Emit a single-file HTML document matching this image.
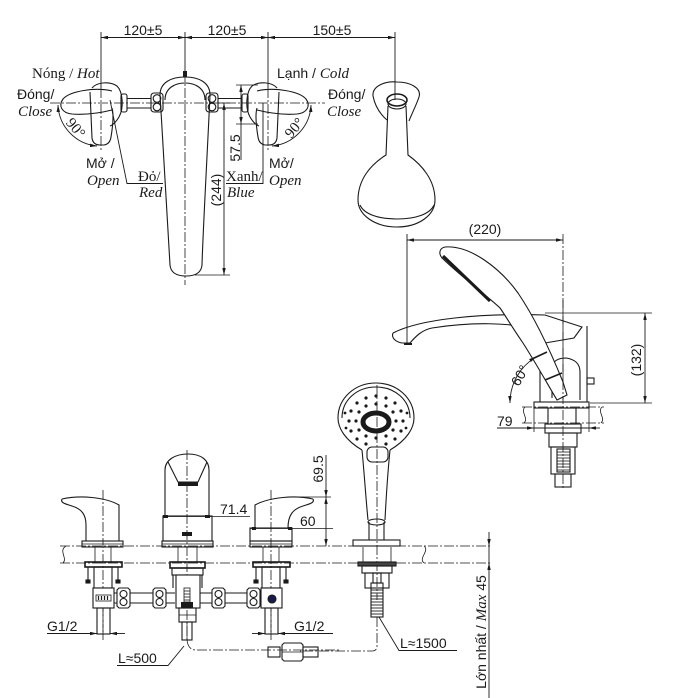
<!DOCTYPE html>
<html><head><meta charset="utf-8">
<style>
html,body{margin:0;padding:0;background:#fff;}
svg{display:block;}
text{font-family:"Liberation Sans",sans-serif;font-size:14px;fill:#1a1a1a;stroke:none;}
.i{font-family:"Liberation Serif",serif;font-style:italic;font-size:15px;}
.r{font-family:"Liberation Serif",serif;font-size:15px;}
.c{stroke-dasharray:10 2 2 2;stroke-width:0.8;}
</style></head><body>
<svg width="700" height="698" viewBox="0 0 700 698" xmlns="http://www.w3.org/2000/svg">
<defs>
<marker id="a" viewBox="0 0 8 4" refX="8" refY="2" markerWidth="7" markerHeight="3.5" markerUnits="userSpaceOnUse" orient="auto-start-reverse"><path d="M0,0 L8,2 L0,4z" fill="#1a1a1a"/></marker>
</defs>
<g fill="none" stroke="#1a1a1a" stroke-width="1.1">

<!-- ========== TOP VIEW ========== -->
<line x1="101" y1="37.5" x2="185" y2="37.5" marker-start="url(#a)" marker-end="url(#a)" stroke-width="0.9"/>
<line x1="185" y1="37.5" x2="268" y2="37.5" marker-start="url(#a)" marker-end="url(#a)" stroke-width="0.9"/>
<line x1="268" y1="37.5" x2="395" y2="37.5" marker-start="url(#a)" marker-end="url(#a)" stroke-width="0.9"/>
<line x1="101" y1="32" x2="101" y2="88" stroke-width="0.9"/>
<line x1="268" y1="32" x2="268" y2="88" stroke-width="0.9"/>
<line x1="395" y1="32" x2="395" y2="100" stroke-width="0.9"/>
<line x1="185" y1="32" x2="185" y2="72" stroke-width="0.9"/>
<line x1="101" y1="88" x2="101" y2="150" class="c"/>
<line x1="268" y1="88" x2="268" y2="150" class="c"/>
<line x1="185" y1="72" x2="185" y2="285" class="c"/>
<line x1="50" y1="103" x2="325" y2="103" class="c"/>

<g id="h">
  <path d="M92 88 C97 82,110 81,117 86 C123 92,124 108,119 117 C116 122,113 125,110 126"/>
  <path d="M112 91 C95 87,70 91,63 99 C58 106,62 113,72 114 C85 115,100 113,112 110"/>
  <path d="M90 92 L92 138 Q93 145 100 145 L104 145 Q110 144 111 137 C113 125,114 115,112 108"/>
  <rect x="121" y="94" width="6" height="18" rx="2"/>
  <line x1="127" y1="98.5" x2="151" y2="98.5"/>
  <line x1="127" y1="108" x2="151" y2="108"/>
  <rect x="151" y="93" width="12" height="19" rx="3"/>
  <circle cx="157" cy="98.5" r="3.8"/>
  <circle cx="157" cy="107" r="3.8"/>
  <path d="M58 105 A43 43 0 0 0 97 146" marker-start="url(#a)" marker-end="url(#a)" stroke-width="0.9"/>
</g>
<use href="#h" transform="translate(369,0) scale(-1,1)"/>

<path d="M160 95 C160 82,172 77,185 77 C198 77,210 82,210 95 C207 160,203 230,202 265 Q201 276 186 276 Q171 276 170 265 C168 230,164 160,160 95 Z"/>
<path d="M165 100 C165 88,175 83,185 83 C195 83,205 88,205 100"/>
<rect x="183" y="71" width="4" height="6" fill="#1a1a1a" stroke="none"/>

<line x1="236" y1="85" x2="258" y2="85" stroke-width="0.8"/>
<line x1="236" y1="124" x2="258" y2="124" stroke-width="0.8"/>
<line x1="241" y1="85" x2="241" y2="124" marker-start="url(#a)" marker-end="url(#a)" stroke-width="0.9"/>
<line x1="241" y1="124" x2="241" y2="160" stroke-width="0.9"/>
<line x1="218" y1="103" x2="230" y2="103" stroke-width="0.8"/>
<line x1="195" y1="275" x2="230" y2="275" stroke-width="0.8"/>
<line x1="224" y1="103" x2="224" y2="275" marker-start="url(#a)" marker-end="url(#a)" stroke-width="0.9"/>

<path d="M110 100 L127 183.5 L163 183.5" stroke-width="0.9"/>
<path d="M263 103 L263 183.5 L226 183.5" stroke-width="0.9"/>

<!-- shower holder top view -->
<path d="M373 96 C372 86,385 81,397 82 C410 82,422 88,419 97 C416 106,412 113,409 121"/>
<path d="M373 96 C375 106,380 114,387 120"/>
<ellipse cx="397" cy="100" rx="10" ry="6" stroke-width="1.6"/>
<ellipse cx="397" cy="104" rx="9" ry="5"/>
<path d="M388 106 L386 155 C370 165,358 180,358 200 C358 215,375 227,397 227 C419 227,435 215,435 200 C435 180,422 165,408 155 L406 106"/>
<path d="M360 205 C364 214,378 219,397 219 C416 219,430 214,434 205"/>

<!-- ========== SIDE VIEW ========== -->
<line x1="407" y1="240" x2="563" y2="240" marker-start="url(#a)" marker-end="url(#a)" stroke-width="0.9"/>
<line x1="407" y1="234" x2="407" y2="343" stroke-width="0.9"/>
<line x1="563" y1="234" x2="563" y2="490" class="c"/>
<path d="M393 333 C420 319,480 313,545 315 L582 327 L574 338 L545 343"/>
<path d="M393 333 C391 338,396 342,402 343 L410 343 C416 336,422 330,432 328 C470 322,510 322,540 330"/>
<line x1="404" y1="344" x2="412" y2="344" stroke-width="2"/>
<line x1="540" y1="335" x2="540" y2="402"/>
<line x1="587" y1="326" x2="587" y2="402"/>
<rect x="587" y="378" width="7" height="6"/>
<path d="M552 398 L552 368 Q553 358 566 358 Q580 360 580 372 L580 400"/>
<path d="M445 247 C470 245,500 268,518 293 C535 318,550 350,563 382 L567 395 L557 400 C548 385,537 365,523 343 C512 327,505 315,500 308 C492 300,465 280,442 258 C438 253,440 248,445 247 Z" fill="#fff"/>
<path d="M443 256 L490 301" stroke-width="3"/>
<line x1="532" y1="359" x2="547" y2="352" stroke-width="1.6"/>
<line x1="545" y1="380" x2="562" y2="373" stroke-width="1.6"/>
<line x1="563" y1="300" x2="563" y2="400" class="c"/>
<line x1="545" y1="313" x2="652" y2="313" stroke-width="0.8"/>
<line x1="590" y1="403" x2="652" y2="403" stroke-width="0.8"/>
<line x1="645" y1="313" x2="645" y2="403" marker-start="url(#a)" marker-end="url(#a)" stroke-width="0.9"/>
<path d="M510 403 A53 53 0 0 1 536 357" marker-start="url(#a)" marker-end="url(#a)" stroke-width="0.9"/>
<rect x="534" y="402" width="55" height="6"/>
<line x1="522" y1="407" x2="604" y2="407" class="c"/>
<line x1="522" y1="423" x2="604" y2="423" class="c"/>
<path d="M525 407 C520 412,529 418,524 423" stroke-width="0.8"/>
<path d="M602 407 C597 412,606 418,601 423" stroke-width="0.8"/>
<line x1="534" y1="408" x2="534" y2="432" stroke-width="0.8"/>
<line x1="589" y1="408" x2="589" y2="432" stroke-width="0.8"/>
<line x1="497" y1="428" x2="534" y2="428" marker-end="url(#a)" stroke-width="0.9"/>
<line x1="534" y1="428" x2="589" y2="428" stroke-width="0.9"/>
<line x1="600" y1="428" x2="589" y2="428" marker-end="url(#a)" stroke-width="0.9"/>
<rect x="548" y="408" width="28" height="16"/>
<rect x="545" y="424" width="36" height="9"/>
<rect x="549" y="433" width="28" height="14"/>
<rect x="551" y="447" width="24" height="27"/>
<rect x="557" y="449" width="13" height="23"/>
<g stroke-width="0.8">
<line x1="557" y1="452" x2="570" y2="452"/><line x1="557" y1="455" x2="570" y2="455"/><line x1="557" y1="458" x2="570" y2="458"/><line x1="557" y1="461" x2="570" y2="461"/><line x1="557" y1="464" x2="570" y2="464"/><line x1="557" y1="467" x2="570" y2="467"/><line x1="557" y1="470" x2="570" y2="470"/>
</g>
<rect x="555" y="474" width="16" height="13"/>

<!-- ========== FRONT VIEW ========== -->
<line x1="60" y1="546" x2="490" y2="546" class="c"/>
<line x1="60" y1="563" x2="490" y2="563" class="c"/>
<path d="M66 546 C58 551,68 558,63 563" stroke-width="0.8"/>
<path d="M424 546 C430 551,418 558,424 563" stroke-width="0.8"/>

<path d="M62 499 C80 495,105 497,119 505 L119 541"/>
<path d="M62 499 C60 503,66 504,72 506 C82 509,86 515,86 525 L86 541"/>
<rect x="82" y="541" width="41" height="6"/>
<line x1="82" y1="544" x2="123" y2="544" stroke-width="0.7"/>
<line x1="103" y1="490" x2="103" y2="640" class="c"/>

<path d="M313 499 C295 495,270 497,255 505 L255 528"/>
<path d="M313 499 C315 503,309 504,303 506 C293 509,288 515,288 528"/>
<rect x="250" y="528" width="42" height="13"/>
<rect x="250" y="541" width="42" height="6"/>
<line x1="250" y1="544" x2="292" y2="544" stroke-width="0.7"/>
<line x1="271" y1="490" x2="271" y2="640" class="c"/>
<line x1="250" y1="528.5" x2="333" y2="528.5" stroke-width="0.8"/>
<line x1="252" y1="528.5" x2="256" y2="528.5" stroke-width="3"/>
<line x1="288" y1="528.5" x2="292" y2="528.5" stroke-width="3"/>

<path d="M165 516 L165 470 C165 460,175 454,188 454 C201 454,209 460,209 470 L209 516"/>
<path d="M168 462 L178 482 L198 482 L207 462"/>
<rect x="178" y="482" width="20" height="4" fill="#1a1a1a" stroke="none"/>
<rect x="163" y="516" width="49" height="25"/>
<rect x="162" y="541" width="51" height="6"/>
<line x1="162" y1="544" x2="213" y2="544" stroke-width="0.7"/>
<rect x="182" y="532" width="10" height="4" fill="#1a1a1a" stroke="none"/>
<line x1="187" y1="450" x2="187" y2="640" class="c"/>
<line x1="166" y1="516.5" x2="250" y2="516.5" stroke-width="0.8"/>
<line x1="163" y1="516.5" x2="168" y2="516.5" stroke-width="3"/>
<line x1="205" y1="516.5" x2="210" y2="516.5" stroke-width="3"/>

<line x1="300" y1="497" x2="331" y2="497" stroke-width="0.8"/>
<line x1="326" y1="455" x2="326" y2="497" marker-end="url(#a)" stroke-width="0.9"/>
<line x1="326" y1="497" x2="326" y2="546" marker-start="url(#a)" marker-end="url(#a)" stroke-width="0.9"/>

<path d="M362 450 C345 440,338 428,338 418 C338 398,355 383,376 383 C397 383,414 398,414 418 C414 428,407 440,390 450" fill="#fff"/>
<path d="M342 418 C342 400,357 387,376 387 C395 387,410 400,410 418"/>
<ellipse cx="376" cy="422" rx="13" ry="9" stroke-width="5"/>
<g fill="#1a1a1a" stroke="none">
<circle cx="396" cy="421" r="1.6"/><circle cx="393" cy="430" r="1.6"/><circle cx="386" cy="436" r="1.6"/><circle cx="376" cy="438" r="1.6"/><circle cx="366" cy="436" r="1.6"/><circle cx="359" cy="430" r="1.6"/><circle cx="356" cy="421" r="1.6"/><circle cx="359" cy="412" r="1.6"/><circle cx="366" cy="406" r="1.6"/><circle cx="376" cy="404" r="1.6"/><circle cx="386" cy="406" r="1.6"/><circle cx="393" cy="412" r="1.6"/>
<circle cx="403" cy="421" r="1.6"/><circle cx="401" cy="431" r="1.6"/><circle cx="395" cy="439" r="1.6"/><circle cx="386" cy="444" r="1.6"/><circle cx="366" cy="444" r="1.6"/><circle cx="357" cy="439" r="1.6"/><circle cx="351" cy="431" r="1.6"/><circle cx="349" cy="421" r="1.6"/><circle cx="351" cy="411" r="1.6"/><circle cx="357" cy="403" r="1.6"/><circle cx="366" cy="398" r="1.6"/><circle cx="376" cy="396" r="1.6"/><circle cx="386" cy="398" r="1.6"/><circle cx="395" cy="403" r="1.6"/><circle cx="401" cy="411" r="1.6"/>
<circle cx="407" cy="413" r="1.4"/><circle cx="345" cy="413" r="1.4"/><circle cx="406" cy="428" r="1.4"/><circle cx="346" cy="428" r="1.4"/>
</g>
<path d="M362 450 C364 470,366 500,368 520"/>
<path d="M390 450 C388 470,386 500,385 520"/>
<rect x="367" y="447" width="21" height="15" rx="5"/>
<ellipse cx="376.5" cy="522" rx="8.5" ry="3"/>
<line x1="369" y1="522" x2="369" y2="540"/>
<line x1="384" y1="522" x2="384" y2="540"/>
<rect x="353" y="540" width="47" height="6"/>
<line x1="377" y1="385" x2="377" y2="600" class="c"/>

<line x1="489" y1="532" x2="489" y2="546" marker-end="url(#a)" stroke-width="0.9"/>
<line x1="489" y1="546" x2="489" y2="563" stroke-width="0.9"/>
<line x1="489" y1="698" x2="489" y2="563" marker-end="url(#a)" stroke-width="0.9"/>

<g id="bf">
  <line x1="95" y1="547" x2="95" y2="563" stroke-width="0.8"/>
  <line x1="111" y1="547" x2="111" y2="563" stroke-width="0.8"/>
  <rect x="85" y="562" width="37" height="5" stroke-width="1.6"/>
  <line x1="88" y1="567" x2="88" y2="582"/>
  <line x1="118" y1="567" x2="118" y2="582"/>
  <rect x="86" y="580" width="4" height="3" fill="#1a1a1a"/>
  <rect x="116" y="580" width="4" height="3" fill="#1a1a1a"/>
  <rect x="94" y="567" width="18" height="21"/>
  <rect x="93" y="588" width="21" height="20" fill="#fff"/>
  <rect x="97" y="608" width="13" height="26"/>
  <line x1="103" y1="608" x2="103" y2="634" class="c"/>
</g>
<use href="#bf" transform="translate(168,0)"/>
<rect x="96" y="595" width="15" height="6" stroke-width="0.8"/>
<g stroke-width="1.2"><line x1="98.5" y1="596" x2="98.5" y2="600"/><line x1="101.5" y1="596" x2="101.5" y2="600"/><line x1="104.5" y1="596" x2="104.5" y2="600"/><line x1="107.5" y1="596" x2="107.5" y2="600"/></g>
<circle cx="272" cy="599" r="4" fill="#1a1a4a"/>
<line x1="114" y1="593" x2="175" y2="593"/>
<line x1="114" y1="603" x2="175" y2="603"/>
<line x1="200" y1="593" x2="261" y2="593"/>
<line x1="200" y1="603" x2="261" y2="603"/>
<g id="nut">
  <path d="M117 590 L119 588 L128 588 L130 590 L130 606 L128 608 L119 608 L117 606 Z" fill="#fff"/>
  <circle cx="123.5" cy="594" r="3.5"/>
  <circle cx="123.5" cy="602" r="3.5"/>
</g>
<use href="#nut" transform="translate(36,0)"/>
<use href="#nut" transform="translate(95,0)"/>
<use href="#nut" transform="translate(130,0)"/>
<line x1="178" y1="547" x2="178" y2="563" stroke-width="0.8"/>
<line x1="197" y1="547" x2="197" y2="563" stroke-width="0.8"/>
<rect x="170" y="562" width="35" height="6" stroke-width="1.6"/>
<rect x="172" y="568" width="31" height="7"/>
<line x1="173" y1="575" x2="173" y2="588"/>
<line x1="202" y1="575" x2="202" y2="588"/>
<rect x="176" y="575" width="24" height="33" fill="#fff"/>
<rect x="184" y="588" width="6" height="14" stroke-width="0.8"/>
<g stroke-width="0.8"><line x1="184" y1="591" x2="190" y2="591"/><line x1="184" y1="594" x2="190" y2="594"/><line x1="184" y1="597" x2="190" y2="597"/><line x1="184" y1="600" x2="190" y2="600"/></g>
<rect x="181" y="602" width="12" height="6" fill="#1a1a1a" stroke="none"/>
<rect x="179" y="608" width="17" height="14"/>
<line x1="179" y1="615" x2="196" y2="615" stroke-width="0.7"/>
<rect x="182" y="622" width="10" height="18"/>
<line x1="187" y1="622" x2="187" y2="640" stroke-width="0.7"/>

<line x1="47" y1="633.5" x2="97" y2="633.5" marker-end="url(#a)" stroke-width="0.9"/>
<line x1="125" y1="633.5" x2="110" y2="633.5" marker-end="url(#a)" stroke-width="0.9"/>
<line x1="252" y1="633.5" x2="265" y2="633.5" marker-end="url(#a)" stroke-width="0.9"/>
<line x1="333" y1="633.5" x2="278" y2="633.5" marker-end="url(#a)" stroke-width="0.9"/>

<path d="M117 665.5 L168 665.5 L184 646" stroke-width="0.9"/>
<path d="M187 640 Q188 650 196 650 L340 650" class="c"/>
<rect x="268" y="647" width="12" height="10"/>
<path d="M282 645 L284 643 L301 643 L303 645 L303 659 L301 661 L284 661 L282 659 Z"/>
<line x1="282" y1="652" x2="303" y2="652" stroke-width="0.7"/>
<rect x="303" y="647" width="15" height="10"/>

<line x1="363" y1="547" x2="363" y2="563" stroke-width="0.8"/>
<line x1="391" y1="547" x2="391" y2="563" stroke-width="0.8"/>
<rect x="358" y="562" width="38" height="4" fill="#444"/>
<rect x="362" y="566" width="30" height="7"/>
<rect x="365" y="573" width="24" height="15"/>
<rect x="373" y="573" width="8" height="10"/>
<rect x="371" y="583" width="12" height="34"/>
<g stroke-width="0.9">
<line x1="371" y1="590" x2="383" y2="590"/><line x1="371" y1="593" x2="383" y2="593"/><line x1="371" y1="596" x2="383" y2="596"/><line x1="371" y1="599" x2="383" y2="599"/><line x1="371" y1="602" x2="383" y2="602"/><line x1="371" y1="605" x2="383" y2="605"/><line x1="371" y1="608" x2="383" y2="608"/><line x1="371" y1="611" x2="383" y2="611"/><line x1="371" y1="614" x2="383" y2="614"/>
</g>
<path d="M377 617 L377 646 Q377 651 372 651 L300 651" class="c"/>
<path d="M379 617 L399 650.5 L457 650.5" stroke-width="0.9"/>
</g>

<!-- ========== TEXT ========== -->
<text x="143" y="35" text-anchor="middle">120±5</text>
<text x="227" y="35" text-anchor="middle">120±5</text>
<text x="332" y="35" text-anchor="middle">150±5</text>

<text class="r" x="32" y="78">Nóng / <tspan class="i">Hot</tspan></text>
<text x="17" y="99">Đóng/</text>
<text class="i" x="18" y="116">Close</text>
<text x="86" y="168">Mở /</text>
<text class="i" x="87" y="185">Open</text>
<text class="r" x="138" y="181">Đỏ/</text>
<text class="i" x="139" y="197">Red</text>
<text class="r" x="226" y="181">Xanh/</text>
<text class="i" x="227" y="197">Blue</text>
<text x="269" y="168">Mở/</text>
<text class="i" x="269" y="185">Open</text>
<text x="277" y="78">Lạnh / <tspan class="i">Cold</tspan></text>
<text x="328" y="99">Đóng/</text>
<text class="i" x="327" y="116">Close</text>
<text class="r" transform="translate(72,131) rotate(50)" text-anchor="middle">90°</text>
<text class="r" transform="translate(298,131) rotate(-50)" text-anchor="middle">90°</text>
<text transform="translate(240,148) rotate(-90)" text-anchor="middle">57.5</text>
<text transform="translate(221,190) rotate(-90)" text-anchor="middle">(244)</text>

<text x="485" y="234" text-anchor="middle">(220)</text>
<text transform="translate(641,360) rotate(-90)" text-anchor="middle">(132)</text>
<text transform="translate(524,378) rotate(-60)" text-anchor="middle">60°</text>
<text x="497" y="426">79</text>

<text x="220" y="514">71.4</text>
<text x="300" y="526">60</text>
<text transform="translate(323,469) rotate(-90)" text-anchor="middle">69.5</text>
<text x="47" y="631">G1/2</text>
<text x="294" y="631">G1/2</text>
<text x="118" y="663">L≈500</text>
<text x="400" y="648">L≈1500</text>
<text transform="translate(486,632) rotate(-90)" text-anchor="middle">Lớn nhất / <tspan class="i">Max</tspan> 45</text>
</svg>
</body></html>
